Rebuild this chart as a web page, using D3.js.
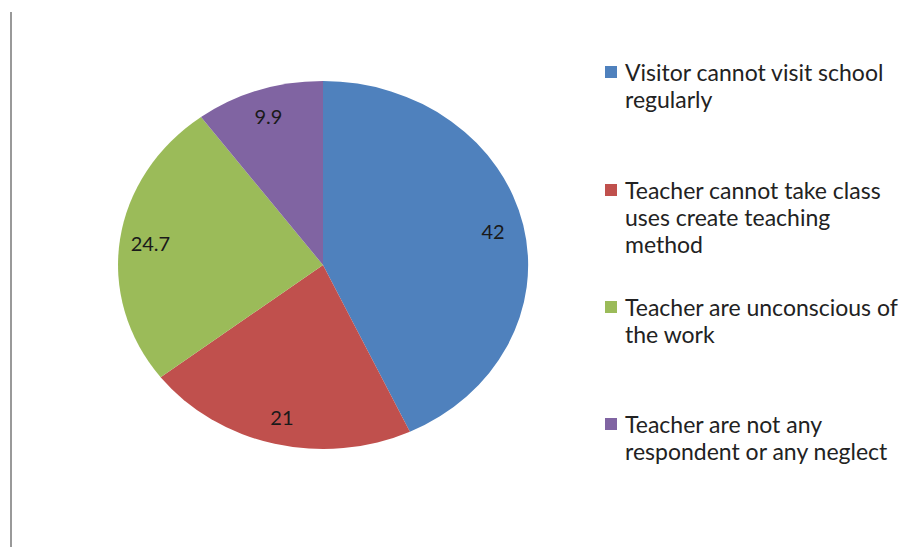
<!DOCTYPE html>
<html><head><meta charset="utf-8">
<script src="https://cdn.jsdelivr.net/npm/d3@7/dist/d3.min.js"></script>
<style>body{margin:0;background:#fff;}svg{display:block;}</style>
</head><body>
<script>
const categories = [
  "Visitor cannot visit school regularly",
  "Teacher cannot take class uses create teaching method",
  "Teacher are unconscious of the work",
  "Teacher are not any respondent or any neglect"
];
const legendLines = [
  ["Visitor cannot visit school", "regularly"],
  ["Teacher cannot take class", "uses create teaching", "method"],
  ["Teacher are unconscious of", "the work"],
  ["Teacher are not any", "respondent or any neglect"]
];
const values = [42, 21, 24.7, 9.9];
const labels = ["42", "21", "24.7", "9.9"];
const colors = ["#4F81BD", "#C0504D", "#9BBB59", "#8064A2"];

const W = 909, H = 547;
const svg = d3.select("body").append("svg").attr("width", W).attr("height", H);

// left border line
svg.append("line").attr("x1", 11).attr("x2", 11).attr("y1", 12).attr("y2", H)
  .attr("stroke", "#999").attr("stroke-width", 2);

const cx = 323, cy = 265, rx = 205, ry = 184;
const pie = d3.pie().sort(null).value(d => d)(values);
const arc = d3.arc().innerRadius(0).outerRadius(1);

const g = svg.append("g").attr("transform", `translate(${cx},${cy}) scale(${rx},${ry})`);
g.selectAll("path").data(pie).join("path")
  .attr("d", arc).attr("fill", (d, i) => colors[i]);

const lf = 0.85;
svg.selectAll("text.lbl").data(pie).join("text").attr("class", "lbl")
  .attr("x", d => { const a = (d.startAngle + d.endAngle) / 2; return cx + rx * lf * Math.sin(a); })
  .attr("y", d => { const a = (d.startAngle + d.endAngle) / 2; return cy - ry * lf * Math.cos(a); })
  .attr("text-anchor", "middle").attr("dominant-baseline", "central")
  .attr("font-family", "Lato, 'Open Sans', sans-serif").attr("font-size", 20)
  .attr("fill", "#1a1a1a").text((d, i) => labels[i]);

// legend
const legY = [72, 190, 307, 424];
const lineH = 27;
const lg = svg.append("g");
legendLines.forEach((lines, i) => {
  lg.append("rect").attr("x", 605).attr("y", legY[i] - 6).attr("width", 12).attr("height", 12)
    .attr("fill", colors[i]);
  lines.forEach((t, j) => {
    lg.append("text").attr("class", "leg").attr("x", 625).attr("y", legY[i] + j * lineH)
      .attr("dominant-baseline", "central")
      .attr("font-family", "Lato, 'Open Sans', sans-serif").attr("font-size", 20)
      .attr("fill", "#222").text(t);
  });
});
// fit legend font to reference width of "Teacher are unconscious of" (~273px)
const ref = lg.selectAll("text.leg").filter(function(){ return this.textContent === "Teacher are unconscious of"; }).node();
const w = ref.getComputedTextLength();
const fs = 20 * 273 / w;
lg.selectAll("text.leg").attr("font-size", fs);
</script>
</body></html>
